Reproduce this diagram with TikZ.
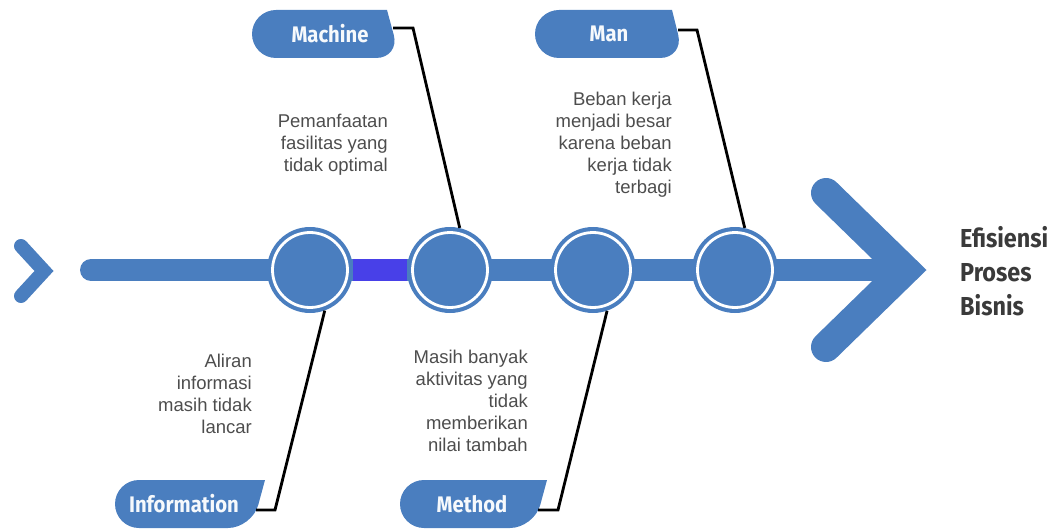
\documentclass[tikz,border=0pt]{standalone}
\usepackage{fontspec}
\setmainfont{Liberation Sans}
\newfontfamily\labelfont[FakeStretch=0.9]{Fira Sans}
\definecolor{spineblue}{RGB}{74,126,191}
\definecolor{brightblue}{RGB}{72,64,232}
\definecolor{bodygray}{RGB}{77,77,77}
\definecolor{titlegray}{RGB}{58,58,58}
\begin{document}
\begin{tikzpicture}[x=1pt,y=-1pt,
  spine/.style={draw=spineblue, line width=22pt, line cap=round},
  brightseg/.style={draw=brightblue, line width=22pt},
  chevron/.style={draw=spineblue, line width=30pt, line cap=round, line join=miter},
  smallchev/.style={draw=spineblue, line width=14pt, line cap=round, line join=miter},
  hub/.style={circle, fill=spineblue, minimum size=86pt, inner sep=0pt,
    path picture={\draw[white, line width=2.8pt] (path picture bounding box.center) circle[radius=37.5pt];}},
  tag/.style={fill=spineblue},
  labeltext/.style={font=\labelfont\bfseries\fontsize{22.5}{26}\selectfont, text=white!95!spineblue, inner sep=0pt},
  note/.style={font=\fontsize{18.5}{22}\selectfont, text=bodygray, align=right, inner sep=0pt, anchor=north east},
  goalstyle/.style={font=\labelfont\bfseries\fontsize{26}{34}\selectfont, text=titlegray, align=left, inner sep=0pt, anchor=north west},
  conn/.style={draw=black, line width=2.8pt, line join=miter}
]
\useasboundingbox (0,0) rectangle (1056,529);
% spine and arrowheads
\coordinate (spineStart) at (91,270);
\coordinate (tip) at (905,270);
\draw[spine] (spineStart) -- (tip);
\coordinate (armTop) at (826,193);
\coordinate (armBot) at (826,347);
\draw[chevron] (armTop) -- (tip) -- (armBot);
\coordinate (sTop) at (21,246);
\coordinate (sTip) at (44,271);
\coordinate (sBot) at (21,296);
\draw[smallchev] (sTop) -- (sTip) -- (sBot);
% hubs
\node[hub] (c1) at (310,270) {};
\node[hub] (c2) at (450,270) {};
\node[hub] (c3) at (593,270) {};
\node[hub] (c4) at (735,270) {};
\draw[brightseg] (c1.east) -- (c2.west);
% label tags
\fill[tag] (387,10) [rounded corners=24pt] -- (252,10) -- (252,58) -- (400,58) [sharp corners] -- cycle;
\node[labeltext] (tMachine) at (330,34) {Machine};
\fill[tag] (672,10) [rounded corners=24pt] -- (535,10) -- (535,58) -- (684,58) [sharp corners] -- cycle;
\node[labeltext] (tMan) at (609,34) {Man};
\fill[tag] (265,480) [rounded corners=24pt] -- (115,480) -- (115,528) -- (252,528) [sharp corners] -- cycle;
\node[labeltext] (tInfo) at (184,504) {Information};
\fill[tag] (547,480) [rounded corners=24pt] -- (400,480) -- (400,528) -- (534,528) [sharp corners] -- cycle;
\node[labeltext] (tMethod) at (472,504) {Method};
% connectors
\coordinate (mStart) at (393,28);
\draw[conn] (mStart) -- ++(20,0) -- (c2.77);
\coordinate (manStart) at (678,30);
\draw[conn] (manStart) -- ++(19,0) -- (c4.77);
\coordinate (iStart) at (256,510);
\draw[conn] (iStart) -- ++(19,0) -- (c1.-70);
\coordinate (meStart) at (538,510);
\draw[conn] (meStart) -- ++(20,0) -- (c3.-71);
% notes
\node[note] (n1) at (388,113.5) {Pemanfaatan\\fasilitas yang\\tidak optimal};
\node[note] (n2) at (672,91.5) {Beban kerja\\menjadi besar\\karena beban\\kerja tidak\\terbagi};
\node[note] (n3) at (252,353.5) {Aliran\\informasi\\masih tidak\\lancar};
\node[note] (n4) at (528,349.5) {Masih banyak\\aktivitas yang\\tidak\\memberikan\\nilai tambah};
% goal
\node[goalstyle] (goal) at (960,226) {Efisiensi\\Proses\\Bisnis};
\end{tikzpicture}
\end{document}
